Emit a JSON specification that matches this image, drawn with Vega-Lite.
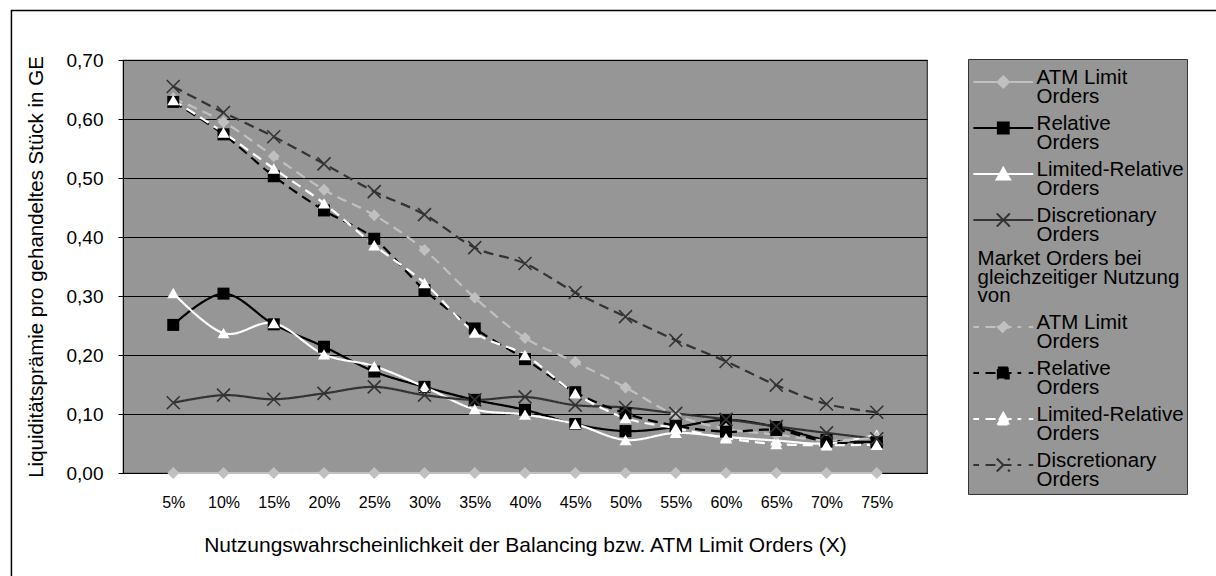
{
  "$schema": "https://vega.github.io/schema/vega-lite/v6.json",
  "width": 804,
  "height": 413,
  "autosize": {"type": "none"},
  "padding": {"left": 123, "top": 60, "right": 289, "bottom": 103},
  "background": "#ffffff",
  "config": {
    "font": "Liberation Sans",
    "view": {"fill": "#969696", "stroke": "#333333", "strokeWidth": 1.2},
    "axis": {"labelColor": "#000000", "titleColor": "#000000", "titleFontWeight": "normal", "labelFont": "Liberation Sans", "titleFont": "Liberation Sans"}
  },
  "data": {
    "values": [
      {"nutzung": 5, "reihe": "ATM Limit Orders", "praemie": 0},
      {"nutzung": 10, "reihe": "ATM Limit Orders", "praemie": 0},
      {"nutzung": 15, "reihe": "ATM Limit Orders", "praemie": 0},
      {"nutzung": 20, "reihe": "ATM Limit Orders", "praemie": 0},
      {"nutzung": 25, "reihe": "ATM Limit Orders", "praemie": 0},
      {"nutzung": 30, "reihe": "ATM Limit Orders", "praemie": 0},
      {"nutzung": 35, "reihe": "ATM Limit Orders", "praemie": 0},
      {"nutzung": 40, "reihe": "ATM Limit Orders", "praemie": 0},
      {"nutzung": 45, "reihe": "ATM Limit Orders", "praemie": 0},
      {"nutzung": 50, "reihe": "ATM Limit Orders", "praemie": 0},
      {"nutzung": 55, "reihe": "ATM Limit Orders", "praemie": 0},
      {"nutzung": 60, "reihe": "ATM Limit Orders", "praemie": 0},
      {"nutzung": 65, "reihe": "ATM Limit Orders", "praemie": 0},
      {"nutzung": 70, "reihe": "ATM Limit Orders", "praemie": 0},
      {"nutzung": 75, "reihe": "ATM Limit Orders", "praemie": 0},

      {"nutzung": 5, "reihe": "Relative Orders", "praemie": 0.251},
      {"nutzung": 10, "reihe": "Relative Orders", "praemie": 0.304},
      {"nutzung": 15, "reihe": "Relative Orders", "praemie": 0.252},
      {"nutzung": 20, "reihe": "Relative Orders", "praemie": 0.214},
      {"nutzung": 25, "reihe": "Relative Orders", "praemie": 0.172},
      {"nutzung": 30, "reihe": "Relative Orders", "praemie": 0.146},
      {"nutzung": 35, "reihe": "Relative Orders", "praemie": 0.124},
      {"nutzung": 40, "reihe": "Relative Orders", "praemie": 0.107},
      {"nutzung": 45, "reihe": "Relative Orders", "praemie": 0.083},
      {"nutzung": 50, "reihe": "Relative Orders", "praemie": 0.071},
      {"nutzung": 55, "reihe": "Relative Orders", "praemie": 0.078},
      {"nutzung": 60, "reihe": "Relative Orders", "praemie": 0.090},
      {"nutzung": 65, "reihe": "Relative Orders", "praemie": 0.078},
      {"nutzung": 70, "reihe": "Relative Orders", "praemie": 0.056},
      {"nutzung": 75, "reihe": "Relative Orders", "praemie": 0.053},

      {"nutzung": 5, "reihe": "Limited-Relative Orders", "praemie": 0.305},
      {"nutzung": 10, "reihe": "Limited-Relative Orders", "praemie": 0.237},
      {"nutzung": 15, "reihe": "Limited-Relative Orders", "praemie": 0.254},
      {"nutzung": 20, "reihe": "Limited-Relative Orders", "praemie": 0.201},
      {"nutzung": 25, "reihe": "Limited-Relative Orders", "praemie": 0.181},
      {"nutzung": 30, "reihe": "Limited-Relative Orders", "praemie": 0.146},
      {"nutzung": 35, "reihe": "Limited-Relative Orders", "praemie": 0.108},
      {"nutzung": 40, "reihe": "Limited-Relative Orders", "praemie": 0.099},
      {"nutzung": 45, "reihe": "Limited-Relative Orders", "praemie": 0.083},
      {"nutzung": 50, "reihe": "Limited-Relative Orders", "praemie": 0.056},
      {"nutzung": 55, "reihe": "Limited-Relative Orders", "praemie": 0.068},
      {"nutzung": 60, "reihe": "Limited-Relative Orders", "praemie": 0.061},
      {"nutzung": 65, "reihe": "Limited-Relative Orders", "praemie": 0.055},
      {"nutzung": 70, "reihe": "Limited-Relative Orders", "praemie": 0.050},
      {"nutzung": 75, "reihe": "Limited-Relative Orders", "praemie": 0.065},

      {"nutzung": 5, "reihe": "Discretionary Orders", "praemie": 0.119},
      {"nutzung": 10, "reihe": "Discretionary Orders", "praemie": 0.132},
      {"nutzung": 15, "reihe": "Discretionary Orders", "praemie": 0.125},
      {"nutzung": 20, "reihe": "Discretionary Orders", "praemie": 0.135},
      {"nutzung": 25, "reihe": "Discretionary Orders", "praemie": 0.146},
      {"nutzung": 30, "reihe": "Discretionary Orders", "praemie": 0.132},
      {"nutzung": 35, "reihe": "Discretionary Orders", "praemie": 0.124},
      {"nutzung": 40, "reihe": "Discretionary Orders", "praemie": 0.129},
      {"nutzung": 45, "reihe": "Discretionary Orders", "praemie": 0.115},
      {"nutzung": 50, "reihe": "Discretionary Orders", "praemie": 0.111},
      {"nutzung": 55, "reihe": "Discretionary Orders", "praemie": 0.101},
      {"nutzung": 60, "reihe": "Discretionary Orders", "praemie": 0.091},
      {"nutzung": 65, "reihe": "Discretionary Orders", "praemie": 0.079},
      {"nutzung": 70, "reihe": "Discretionary Orders", "praemie": 0.068},
      {"nutzung": 75, "reihe": "Discretionary Orders", "praemie": 0.058},

      {"nutzung": 5, "reihe": "Market Orders bei ATM Limit Orders", "praemie": 0.635},
      {"nutzung": 10, "reihe": "Market Orders bei ATM Limit Orders", "praemie": 0.595},
      {"nutzung": 15, "reihe": "Market Orders bei ATM Limit Orders", "praemie": 0.537},
      {"nutzung": 20, "reihe": "Market Orders bei ATM Limit Orders", "praemie": 0.480},
      {"nutzung": 25, "reihe": "Market Orders bei ATM Limit Orders", "praemie": 0.437},
      {"nutzung": 30, "reihe": "Market Orders bei ATM Limit Orders", "praemie": 0.378},
      {"nutzung": 35, "reihe": "Market Orders bei ATM Limit Orders", "praemie": 0.297},
      {"nutzung": 40, "reihe": "Market Orders bei ATM Limit Orders", "praemie": 0.229},
      {"nutzung": 45, "reihe": "Market Orders bei ATM Limit Orders", "praemie": 0.188},
      {"nutzung": 50, "reihe": "Market Orders bei ATM Limit Orders", "praemie": 0.145},
      {"nutzung": 55, "reihe": "Market Orders bei ATM Limit Orders", "praemie": 0.098},
      {"nutzung": 60, "reihe": "Market Orders bei ATM Limit Orders", "praemie": 0.075},
      {"nutzung": 65, "reihe": "Market Orders bei ATM Limit Orders", "praemie": 0.065},
      {"nutzung": 70, "reihe": "Market Orders bei ATM Limit Orders", "praemie": 0.055},
      {"nutzung": 75, "reihe": "Market Orders bei ATM Limit Orders", "praemie": 0.060},

      {"nutzung": 5, "reihe": "Market Orders bei Relative Orders", "praemie": 0.629},
      {"nutzung": 10, "reihe": "Market Orders bei Relative Orders", "praemie": 0.574},
      {"nutzung": 15, "reihe": "Market Orders bei Relative Orders", "praemie": 0.503},
      {"nutzung": 20, "reihe": "Market Orders bei Relative Orders", "praemie": 0.445},
      {"nutzung": 25, "reihe": "Market Orders bei Relative Orders", "praemie": 0.397},
      {"nutzung": 30, "reihe": "Market Orders bei Relative Orders", "praemie": 0.310},
      {"nutzung": 35, "reihe": "Market Orders bei Relative Orders", "praemie": 0.245},
      {"nutzung": 40, "reihe": "Market Orders bei Relative Orders", "praemie": 0.193},
      {"nutzung": 45, "reihe": "Market Orders bei Relative Orders", "praemie": 0.137},
      {"nutzung": 50, "reihe": "Market Orders bei Relative Orders", "praemie": 0.101},
      {"nutzung": 55, "reihe": "Market Orders bei Relative Orders", "praemie": 0.080},
      {"nutzung": 60, "reihe": "Market Orders bei Relative Orders", "praemie": 0.070},
      {"nutzung": 65, "reihe": "Market Orders bei Relative Orders", "praemie": 0.073},
      {"nutzung": 70, "reihe": "Market Orders bei Relative Orders", "praemie": 0.053},
      {"nutzung": 75, "reihe": "Market Orders bei Relative Orders", "praemie": 0.052},

      {"nutzung": 5, "reihe": "Market Orders bei Limited-Relative Orders", "praemie": 0.632},
      {"nutzung": 10, "reihe": "Market Orders bei Limited-Relative Orders", "praemie": 0.577},
      {"nutzung": 15, "reihe": "Market Orders bei Limited-Relative Orders", "praemie": 0.516},
      {"nutzung": 20, "reihe": "Market Orders bei Limited-Relative Orders", "praemie": 0.457},
      {"nutzung": 25, "reihe": "Market Orders bei Limited-Relative Orders", "praemie": 0.386},
      {"nutzung": 30, "reihe": "Market Orders bei Limited-Relative Orders", "praemie": 0.322},
      {"nutzung": 35, "reihe": "Market Orders bei Limited-Relative Orders", "praemie": 0.238},
      {"nutzung": 40, "reihe": "Market Orders bei Limited-Relative Orders", "praemie": 0.200},
      {"nutzung": 45, "reihe": "Market Orders bei Limited-Relative Orders", "praemie": 0.135},
      {"nutzung": 50, "reihe": "Market Orders bei Limited-Relative Orders", "praemie": 0.093},
      {"nutzung": 55, "reihe": "Market Orders bei Limited-Relative Orders", "praemie": 0.076},
      {"nutzung": 60, "reihe": "Market Orders bei Limited-Relative Orders", "praemie": 0.059},
      {"nutzung": 65, "reihe": "Market Orders bei Limited-Relative Orders", "praemie": 0.049},
      {"nutzung": 70, "reihe": "Market Orders bei Limited-Relative Orders", "praemie": 0.047},
      {"nutzung": 75, "reihe": "Market Orders bei Limited-Relative Orders", "praemie": 0.048},

      {"nutzung": 5, "reihe": "Market Orders bei Discretionary Orders", "praemie": 0.655},
      {"nutzung": 10, "reihe": "Market Orders bei Discretionary Orders", "praemie": 0.611},
      {"nutzung": 15, "reihe": "Market Orders bei Discretionary Orders", "praemie": 0.570},
      {"nutzung": 20, "reihe": "Market Orders bei Discretionary Orders", "praemie": 0.524},
      {"nutzung": 25, "reihe": "Market Orders bei Discretionary Orders", "praemie": 0.477},
      {"nutzung": 30, "reihe": "Market Orders bei Discretionary Orders", "praemie": 0.438},
      {"nutzung": 35, "reihe": "Market Orders bei Discretionary Orders", "praemie": 0.382},
      {"nutzung": 40, "reihe": "Market Orders bei Discretionary Orders", "praemie": 0.355},
      {"nutzung": 45, "reihe": "Market Orders bei Discretionary Orders", "praemie": 0.306},
      {"nutzung": 50, "reihe": "Market Orders bei Discretionary Orders", "praemie": 0.265},
      {"nutzung": 55, "reihe": "Market Orders bei Discretionary Orders", "praemie": 0.225},
      {"nutzung": 60, "reihe": "Market Orders bei Discretionary Orders", "praemie": 0.189},
      {"nutzung": 65, "reihe": "Market Orders bei Discretionary Orders", "praemie": 0.149},
      {"nutzung": 70, "reihe": "Market Orders bei Discretionary Orders", "praemie": 0.117},
      {"nutzung": 75, "reihe": "Market Orders bei Discretionary Orders", "praemie": 0.103}
    ]
  },
  "resolve": {
    "scale": {"x": "independent", "y": "independent"},
    "axis": {"x": "independent", "y": "independent"}
  },
  "layer": [
    {
      "encoding": {
        "x": {
          "field": "nutzung",
          "type": "quantitative",
          "scale": {"domain": [0, 80]},
          "axis": {
            "orient": "bottom",
            "title": "Nutzungswahrscheinlichkeit der Balancing bzw. ATM Limit Orders (X)",
            "values": [5, 10, 15, 20, 25, 30, 35, 40, 45, 50, 55, 60, 65, 70, 75],
            "labelExpr": "datum.value + '%'",
            "grid": false,
            "ticks": false,
            "tickSize": 0,
            "domainColor": "#000000",
            "domainWidth": 1,
            "labelFontSize": 16,
            "labelPadding": 21,
            "labelFlush": false,
            "labelOverlap": false,
            "titleFontSize": 21,
            "titlePadding": 24
          }
        },
        "y": {
          "field": "praemie",
          "type": "quantitative",
          "scale": {"domain": [0, 0.7]},
          "axis": {
            "orient": "left",
            "title": "Liquiditätsprämie pro gehandeltes Stück in GE",
            "values": [0, 0.1, 0.2, 0.3, 0.4, 0.5, 0.6, 0.7],
            "labelExpr": "replace(format(datum.value, '.2f'), '.', ',')",
            "grid": true,
            "gridColor": "#000000",
            "gridWidth": 1,
            "gridOpacity": 1,
            "tickSize": 5,
            "tickColor": "#000000",
            "domainColor": "#000000",
            "domainWidth": 1,
            "labelFontSize": 19,
            "labelPadding": 15,
            "titleFontSize": 20.5,
            "titlePadding": 20
          }
        }
      },
      "layer": [
        {
          "mark": {"type": "line", "interpolate": "cardinal", "strokeWidth": 2.2},
          "encoding": {
            "color": {
              "field": "reihe",
              "type": "nominal",
              "scale": {
                "domain": [
                  "ATM Limit Orders",
                  "Relative Orders",
                  "Limited-Relative Orders",
                  "Discretionary Orders",
                  "Market Orders bei gleichzeitiger Nutzung von",
                  "Market Orders bei ATM Limit Orders",
                  "Market Orders bei Relative Orders",
                  "Market Orders bei Limited-Relative Orders",
                  "Market Orders bei Discretionary Orders"
                ],
                "range": ["#c0c0c0", "#000000", "#ffffff", "#333333", "transparent", "#c0c0c0", "#000000", "#ffffff", "#333333"]
              },
              "legend": {
                "title": null,
                "orient": "none",
                "legendX": 845,
                "legendY": -1,
                "direction": "vertical",
                "columns": 1,
                "fillColor": "#969696",
                "strokeColor": "#333333",
                "padding": 3,
                "rowPadding": 0,
                "symbolSize": 1400,
                "symbolOffset": 12.3,
                "symbolStrokeWidth": 2,
                "labelFont": "Liberation Sans",
                "labelFontSize": 20.5,
                "labelColor": "#000000",
                "labelOffset": 13.3,
                "labelLimit": 300,
                "labelBaseline": "middle",
                "labelExpr": "indexof(datum.value, 'Nutzung') >= 0 ? ['Market Orders bei', 'gleichzeitiger Nutzung', 'von'] : [replace(replace(datum.value, 'Market Orders bei ', ''), ' Orders', ''), 'Orders']",
                "encode": {
                  "symbols": {
                    "update": {
                      "shape": {"signal": "indexof(datum.value, 'Nutzung') >= 0 ? 'M0,0' : (indexof(datum.value, 'Market Orders bei') === 0 ? 'M-1.6,0H-1.3M-0.95,0H0.96M1.36,0H1.6' : 'M-1.6,0H1.6') + (indexof(datum.value, 'ATM') >= 0 ? 'M0,-0.3L0.3,0L0,0.3L-0.3,0Z' : indexof(datum.value, 'Limited') >= 0 ? 'M0,-0.33L0.36,0.3H-0.36Z' : indexof(datum.value, 'Relative') >= 0 ? 'M-0.29,-0.29H0.29V0.29H-0.29Z' : 'M-0.35,-0.35L0.35,0.35M-0.35,0.35L0.35,-0.35')"},
                      "fill": {"signal": "indexof(datum.value, 'Discretionary') >= 0 ? 'transparent' : scale('color', datum.value)"},
                      "stroke": {"signal": "scale('color', datum.value)"},
                      "strokeDash": {"value": [1, 0]},
                      "strokeWidth": {"value": 2},
                      "size": {"value": 1400},
                      "opacity": {"value": 1}
                    }
                  },
                  "labels": {
                    "update": {
                      "dx": {"signal": "indexof(datum.value, 'Nutzung') >= 0 ? -59 : 0"},
                      "dy": {"signal": "indexof(datum.value, 'Nutzung') >= 0 ? -6.7 : -4"},
                      "lineHeight": {"signal": "indexof(datum.value, 'Nutzung') >= 0 ? 18.5 : 19"}
                    }
                  }
                }
              }
            },
            "strokeDash": {
              "field": "reihe",
              "type": "nominal",
              "scale": {
                "domain": [
                  "ATM Limit Orders",
                  "Relative Orders",
                  "Limited-Relative Orders",
                  "Discretionary Orders",
                  "Market Orders bei gleichzeitiger Nutzung von",
                  "Market Orders bei ATM Limit Orders",
                  "Market Orders bei Relative Orders",
                  "Market Orders bei Limited-Relative Orders",
                  "Market Orders bei Discretionary Orders"
                ],
                "range": [[1, 0], [1, 0], [1, 0], [1, 0], [1, 0], [10, 6], [10, 6], [10, 6], [10, 6]]
              },
              "legend": null
            }
          }
        },
        {
          "transform": [
            {"filter": {"field": "reihe", "oneOf": ["ATM Limit Orders", "Relative Orders", "Limited-Relative Orders", "Market Orders bei ATM Limit Orders", "Market Orders bei Relative Orders", "Market Orders bei Limited-Relative Orders"]}}
          ],
          "mark": {"type": "point", "filled": true, "opacity": 1, "size": 144},
          "encoding": {
            "color": {"field": "reihe", "type": "nominal"},
            "shape": {
              "field": "reihe",
              "type": "nominal",
              "scale": {
                "domain": ["ATM Limit Orders", "Relative Orders", "Limited-Relative Orders", "Market Orders bei ATM Limit Orders", "Market Orders bei Relative Orders", "Market Orders bei Limited-Relative Orders"],
                "range": ["diamond", "square", "triangle-up", "diamond", "square", "triangle-up"]
              },
              "legend": null
            }
          }
        },
        {
          "transform": [
            {"filter": {"field": "reihe", "oneOf": ["Discretionary Orders", "Market Orders bei Discretionary Orders"]}}
          ],
          "mark": {"type": "point", "filled": false, "shape": "M-1,-1L1,1M-1,1L1,-1", "size": 169, "strokeWidth": 1.6, "opacity": 1},
          "encoding": {
            "color": {"field": "reihe", "type": "nominal"}
          }
        }
      ]
    },
    {
      "data": {"values": [{}]},
      "mark": {"type": "rect", "filled": false, "stroke": "#000000", "strokeWidth": 1.5, "clip": false},
      "encoding": {
        "x": {"datum": -11.1, "type": "quantitative", "scale": {"domain": [0, 80]}, "axis": null},
        "x2": {"datum": 160},
        "y": {"datum": 0.784, "type": "quantitative", "scale": {"domain": [0, 0.7]}, "axis": null},
        "y2": {"datum": -0.5}
      }
    }
  ]
}
